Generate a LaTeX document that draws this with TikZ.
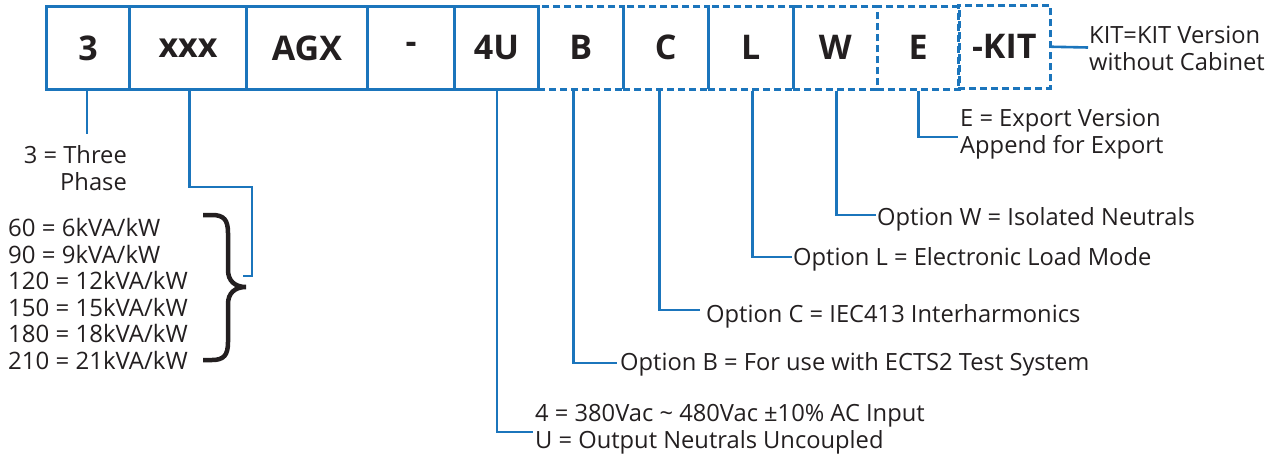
\documentclass[tikz,border=0pt]{standalone}
\usepackage{fontspec}
\setmainfont{Open Sans}
\definecolor{lineblue}{RGB}{27,117,188}
\definecolor{ink}{RGB}{35,31,32}
\begin{document}
\begin{tikzpicture}[x=1pt,y=-1pt,
  codebox/.style={draw=lineblue, line width=3pt, font=\bfseries\fontsize{34}{40}\selectfont, text=ink, inner sep=0pt, anchor=north west, minimum height=83pt},
  optbox/.style={codebox, line width=2.5pt, dash pattern=on 7pt off 4pt},
  conn/.style={draw=lineblue, line width=2.6pt},
  lbl/.style={font=\fontsize{23.7}{27}\selectfont, text=ink, inner sep=0pt, anchor=west, align=left},
  bracestyle/.style={draw=ink, line width=4.5pt}]
\useasboundingbox (0,0) rectangle (1273,455);
% solid boxes
\node[codebox, minimum width=83pt] (b3) at (45,5) {3};
\node[codebox, minimum width=117pt] (bxxx) at (128,5) {xxx};
\node[codebox, minimum width=121pt] (bAGX) at (245,5) {AGX};
\node[codebox, minimum width=87pt] (bdash) at (366,5) {-};
\node[codebox, minimum width=84pt] (b4U) at (453,5) {4U};
% dashed option boxes
\node[optbox, minimum width=85pt] (bB) at (537,5) {B};
\node[optbox, minimum width=85pt] (bC) at (622,5) {C};
\node[optbox, minimum width=85pt] (bL) at (707,5) {L};
\node[optbox, minimum width=84pt] (bW) at (792,5) {W};
\node[optbox, minimum width=82pt] (bE) at (876,5) {E};
\node[optbox, minimum width=92pt] (bKIT) at (957,4) {-KIT};
% labels
\node[lbl, anchor=east, align=right] (t3) at (127,168) {3 = Three\\Phase};
\node[lbl, font=\fontsize{24}{26.5}\selectfont] (tlist) at (8,294) {60 = 6kVA/kW\\90 = 9kVA/kW\\120 = 12kVA/kW\\150 = 15kVA/kW\\180 = 18kVA/kW\\210 = 21kVA/kW};
\node[lbl] (tKIT) at (1089,48.5) {KIT=KIT Version\\without Cabinet};
\node[lbl] (tE) at (960,134.5) {E = Export Version\\Append for Export};
\node[lbl] (tW) at (877,219) {Option W = Isolated Neutrals};
\node[lbl] (tL) at (793,259) {Option L = Electronic Load Mode};
\node[lbl] (tC) at (706,316) {Option C = IEC413 Interharmonics};
\node[lbl] (tB) at (620,364) {Option B = For use with ECTS2 Test System};
\node[lbl] (t4U) at (535,429.5) {4 = 380Vac \textasciitilde{} 480Vac ±10\% AC Input\\U = Output Neutrals Uncoupled};
% free ends
\coordinate (c3) at (87,134);
\coordinate (cxxx) at (243,276);
% connectors
\draw[conn] (b3.south -| c3) -- (c3);
\draw[conn] ([xshift=1.5pt]bxxx.south) |- (252,187) |- (cxxx);
\draw[conn] ([xshift=-43pt]b4U.south east) |- ([xshift=-2pt,yshift=-2.5pt]t4U.west);
\draw[conn] ([xshift=-7pt]bB.south) |- ([xshift=-3pt,yshift=1pt]tB.west);
\draw[conn] ([xshift=-6.5pt]bC.south) |- ([xshift=-6pt,yshift=6pt]tC.west);
\draw[conn] ([xshift=1.5pt]bL.south) |- ([xshift=-1pt,yshift=2pt]tL.west);
\draw[conn] ([xshift=1pt]bW.south) |- ([xshift=-1pt,yshift=4pt]tW.west);
\draw[conn] (bE.south) |- ([xshift=-2pt,yshift=-2.5pt]tE.west);
\draw[conn] (bKIT.east) -- ([xshift=-1pt,yshift=1pt]tKIT.west);
% brace
\draw[bracestyle] (203,215) -- (212,215) .. controls (224,215) and (228,220) .. (228,233)
  -- (228,270) .. controls (228,281) and (235,287) .. (246,287)
  .. controls (235,287) and (228,293) .. (228,304)
  -- (228,342) .. controls (228,355) and (224,360) .. (212,360) -- (203,360);
\end{tikzpicture}
\end{document}
